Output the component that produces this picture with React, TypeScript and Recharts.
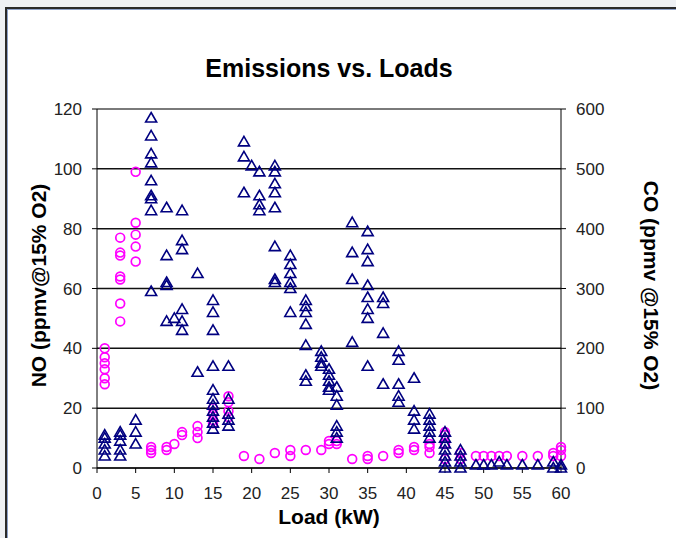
import { ScatterChart, Scatter, XAxis, YAxis, CartesianGrid, ReferenceLine, Label } from 'recharts';

const chartTitle = 'Emissions vs. Loads';
const loadTicks = [0, 5, 10, 15, 20, 25, 30, 35, 40, 45, 50, 55, 60];
const noTicks = [0, 20, 40, 60, 80, 100, 120];
const coTicks = [0, 100, 200, 300, 400, 500, 600];

// NO (left axis), magenta rings, grouped by load (kW)
const noLoads = [1, 3, 5, 7, 9, 10, 11, 13, 15, 17, 19, 21, 23, 25, 27, 29, 30, 31, 33, 35, 37, 39, 41, 43, 45, 47, 49, 50, 51, 52, 53, 55, 57, 59, 60];
const noValues = [
  [40, 37, 35, 33, 30, 28],
  [77, 72, 71, 64, 63, 55, 49],
  [99, 82, 78, 74, 69],
  [7, 6, 5],
  [7, 6],
  [8],
  [12, 11],
  [14, 12, 10],
  [20, 18, 16, 15],
  [24, 22, 19, 17],
  [4],
  [3],
  [5],
  [6, 4],
  [6],
  [6],
  [8, 9],
  [9, 8],
  [3],
  [4, 3],
  [4],
  [6, 5],
  [7, 6],
  [8, 7, 5],
  [12, 11, 8, 3],
  [5, 3],
  [4],
  [4],
  [4],
  [4],
  [4],
  [4],
  [4],
  [4, 5],
  [7, 6, 4],
];

// CO (right axis), navy triangles, grouped by load (kW)
const coLoads = [1, 3, 5, 7, 9, 10, 11, 13, 15, 17, 19, 20, 21, 23, 25, 27, 29, 30, 31, 33, 35, 37, 39, 41, 43, 45, 47, 49, 50, 51, 52, 53, 55, 57, 59, 60];
const coValues = [
  [20, 30, 40, 50, 55],
  [20, 30, 45, 55, 60],
  [40, 60, 80],
  [585, 555, 525, 510, 480, 455, 450, 430, 295],
  [435, 355, 310, 305, 245],
  [250],
  [430, 380, 365, 265, 245, 230],
  [325, 160],
  [280, 260, 230, 170, 130, 115, 105, 95, 85, 75, 65],
  [170, 115, 90, 80, 70],
  [545, 520, 460],
  [505],
  [495, 455, 440, 430],
  [505, 495, 475, 460, 435, 370, 315, 310],
  [355, 340, 325, 310, 300, 260],
  [280, 270, 260, 240, 205, 155, 145],
  [195, 185, 175, 170],
  [165, 155, 145, 135, 130],
  [135, 120, 105, 70, 60, 50],
  [410, 360, 315, 210],
  [395, 365, 345, 305, 285, 265, 250, 170],
  [285, 275, 225, 140],
  [195, 180, 140, 120, 110],
  [150, 95, 80, 65],
  [90, 80, 70, 60, 50],
  [60, 50, 40, 30, 20, 10, 0],
  [30, 20, 10, 0],
  [5],
  [5],
  [5],
  [10],
  [5],
  [5],
  [5],
  [10, 0],
  [5, 0],
];

const noData = noLoads.flatMap((load, i) => noValues[i].map((no) => ({ load, no })));
const coData = coLoads.flatMap((load, i) => coValues[i].map((co) => ({ load, co })));

const tickStyle = { fill: '#222', fontSize: 17, fontFamily: 'Arial, "Liberation Sans", sans-serif' };
const titleFont = { fontFamily: 'Arial, "Liberation Sans", sans-serif', fontWeight: 700, fill: '#000' };

function Ring(props: any) {
  const { cx, cy } = props;
  if (cx == null || cy == null) return null;
  return <circle cx={cx} cy={cy} r={4.4} fill="none" stroke="#ff00ff" strokeWidth={1.7} />;
}

function Tri(props: any) {
  const { cx, cy } = props;
  if (cx == null || cy == null) return null;
  return (
    <path
      d={`M${cx},${cy - 5.5}L${cx + 5.5},${cy + 4}L${cx - 5.5},${cy + 4}Z`}
      fill="none"
      stroke="#000080"
      strokeWidth={1.6}
    />
  );
}

function LeftTitle(props: any) {
  const vb = props.viewBox;
  const x = vb.x + 38;
  const y = vb.y + vb.height / 2 - 3;
  return (
    <text x={x} y={y} transform={`rotate(-90 ${x} ${y})`} textAnchor="middle" dominantBaseline="central" fontSize={21} {...titleFont}>
      NO (ppmv@15% O2)
    </text>
  );
}

function RightTitle(props: any) {
  const vb = props.viewBox;
  const x = vb.x + 90;
  const y = vb.y + vb.height / 2 - 3;
  return (
    <text x={x} y={y} transform={`rotate(90 ${x} ${y})`} textAnchor="middle" dominantBaseline="central" fontSize={21} {...titleFont}>
      CO (ppmv @15% O2)
    </text>
  );
}

function BottomTitle(props: any) {
  const vb = props.viewBox;
  const x = vb.x + vb.width / 2;
  const y = vb.y + 48;
  return (
    <text x={x} y={y} textAnchor="middle" dominantBaseline="central" fontSize={21} {...titleFont}>
      Load (kW)
    </text>
  );
}

export default function App() {
  return (
    <div style={{ position: 'fixed', left: 0, top: 0, width: 676, height: 538, background: '#eef0f4', overflow: 'hidden' }}>
      <div
        style={{
          position: 'absolute',
          left: 5,
          top: 7,
          width: 700,
          height: 560,
          background: '#fff',
          border: '2px solid #2a2a2a',
          boxShadow: 'inset 1px 1px 0 #8da0c8',
        }}
      />
      <div
        style={{
          position: 'absolute',
          left: 97,
          width: 464,
          top: 52,
          textAlign: 'center',
          fontFamily: 'Arial, "Liberation Sans", sans-serif',
          fontWeight: 700,
          fontSize: 25,
          lineHeight: '32px',
          color: '#000',
        }}
      >
        {chartTitle}
      </div>
      <div style={{ position: 'absolute', left: 0, top: 0 }}>
        <ScatterChart width={676} height={538} margin={{ top: 109, right: 0, bottom: 0, left: 0 }}>
          <CartesianGrid yAxisId="no" vertical={false} stroke="#111" strokeWidth={1.5} />
          <XAxis
            dataKey="load"
            type="number"
            domain={[0, 60]}
            ticks={loadTicks}
            interval={0}
            height={70}
            stroke="#000"
            tickSize={5}
            tickMargin={14}
            tick={tickStyle}
          >
            <Label content={BottomTitle} />
          </XAxis>
          <YAxis
            yAxisId="no"
            dataKey="no"
            type="number"
            orientation="left"
            domain={[0, 120]}
            ticks={noTicks}
            interval={0}
            width={97}
            stroke="#000"
            tickSize={5}
            tickMargin={10}
            tick={tickStyle}
          >
            <Label content={LeftTitle} />
          </YAxis>
          <YAxis
            yAxisId="co"
            dataKey="co"
            type="number"
            orientation="right"
            domain={[0, 600]}
            ticks={coTicks}
            interval={0}
            width={115}
            stroke="#000"
            tickSize={5}
            tickMargin={10}
            tick={tickStyle}
          >
            <Label content={RightTitle} />
          </YAxis>
          <ReferenceLine yAxisId="no" y={120} stroke="#8a8a8a" strokeWidth={1.5} />
          <Scatter name="NO" yAxisId="no" data={noData} shape={Ring} isAnimationActive={false} />
          <Scatter name="CO" yAxisId="co" data={coData} shape={Tri} isAnimationActive={false} />
        </ScatterChart>
      </div>
    </div>
  );
}
